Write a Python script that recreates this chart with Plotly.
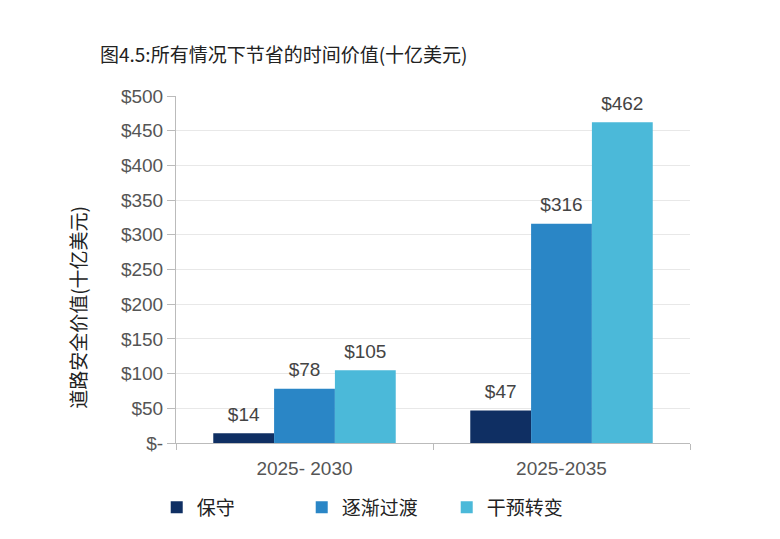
import plotly.graph_objects as go

categories = ["2025- 2030", "2025-2035"]
series_names = ["保守", "逐渐过渡", "干预转变"]
conservative = [14, 47]
gradual = [78, 316]
intervention = [105, 462]
series_colors = ["#0f2f63", "#2a86c6", "#4bb9d9"]
tick_vals = [0, 50, 100, 150, 200, 250, 300, 350, 400, 450, 500]
tick_text = ["$-", "$50", "$100", "$150", "$200", "$250", "$300", "$350", "$400", "$450", "$500"]

font_main = "Liberation Sans, Arial, Noto Sans CJK SC, sans-serif"
font_cjk = "Noto Sans CJK SC, sans-serif"

fig = go.Figure()
for i, (name, vals, col) in enumerate(zip(series_names, [conservative, gradual, intervention], series_colors)):
    fig.add_trace(go.Bar(
        x=categories, y=vals, name=name, marker_color=col, marker_line_width=0,
        offsetgroup=str(i),
    ))
for i, vals in enumerate([conservative, gradual, intervention]):
    fig.add_trace(go.Scatter(
        x=categories, y=vals, mode="markers+text", showlegend=False, hoverinfo="skip",
        marker=dict(size=11, color="rgba(0,0,0,0)"),
        text=[f"${v}" for v in vals], textposition="top center",
        textfont=dict(size=19, color="#444444", family=font_main),
        offsetgroup=str(i), cliponaxis=False,
    ))

fig.update_layout(
    width=780, height=539,
    margin=dict(l=168, r=98, t=88, b=104, autoexpand=False),
    paper_bgcolor="white", plot_bgcolor="white",
    barmode="group", bargap=0.29, bargroupgap=0,
    scattermode="group", scattergap=0.29,
    showlegend=True,
    legend=dict(orientation="h", x=-0.0375, y=-0.131, xanchor="left", yanchor="top",
                font=dict(size=19, color="#222222", family=font_cjk),
                entrywidth=100, itemwidth=30, traceorder="normal"),
    title=dict(text="图4.5:所有情况下节省的时间价值(十亿美元)", x=92/780, xanchor="left",
               y=1 - 47/539, yanchor="middle",
               font=dict(size=19, color="#222222", family=font_cjk)),
    annotations=[dict(text="道路安全价值(十亿美元)", textangle=-90, xref="paper", yref="paper",
                      x=-0.191, y=0.392, xanchor="center", yanchor="middle", showarrow=False,
                      font=dict(size=19, color="#222222", family=font_cjk))],
)
fig.update_yaxes(
    range=[0, 500], tickvals=tick_vals, ticktext=tick_text,
    tickfont=dict(size=19, color="#555555", family=font_main),
    showgrid=True, gridcolor="#e8e8e8", gridwidth=1,
    showline=True, linecolor="#bbbbbb", linewidth=1,
    ticks="outside", ticklen=8, tickcolor="#bbbbbb",
    zeroline=False, automargin=False,
)
fig.update_xaxes(
    tickfont=dict(size=19, color="#555555", family=font_main),
    showline=True, linecolor="#bbbbbb", linewidth=1,
    ticks="outside", tickson="boundaries", ticklen=6, tickcolor="#bbbbbb",
    ticklabelstandoff=8, automargin=False,
)

fig.write_html("out.html")
